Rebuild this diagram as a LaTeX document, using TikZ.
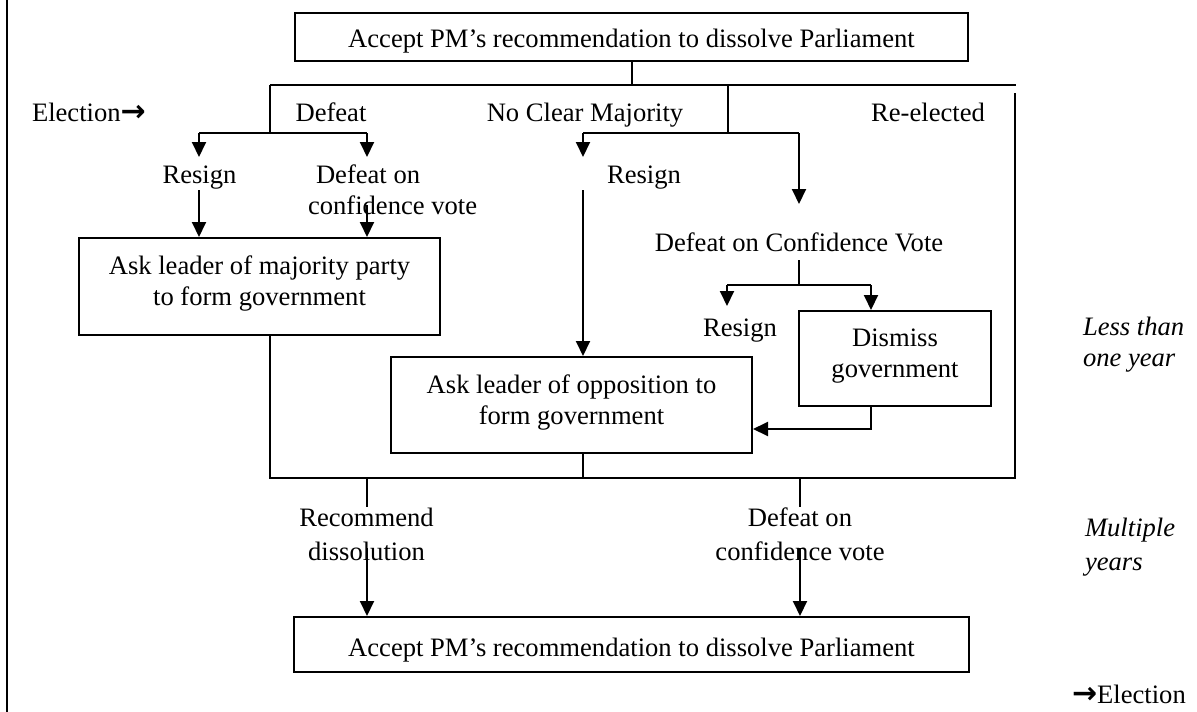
\documentclass[tikz,border=0pt]{standalone}
\usepackage{fontspec}
\setmainfont{Liberation Serif}
\newfontfamily\arrowfont{DejaVu Sans}
\usetikzlibrary{arrows.meta}
\newcommand{\bigarr}{{\arrowfont\bfseries\fontsize{30}{31}\selectfont →}}
\begin{document}
\begin{tikzpicture}[x=1pt,y=-1pt,line width=2pt,
  every node/.style={font=\fontsize{26.6}{31}\selectfont,inner sep=0pt,text height=17.6pt,text depth=0pt},
  box/.style={draw,line width=2pt,align=center,text height=48.6pt,text depth=10pt},
  onebox/.style={draw,line width=2pt,align=center},
  twoline/.style={text height=48.6pt,text depth=0pt},
  lbltall/.style={align=center,font=\fontsize{26.6}{34}\selectfont,text height=51.6pt,text depth=0pt},
  side/.style={align=left,anchor=west,font=\fontsize{26.6}{31}\selectfont\itshape,text height=48.6pt,text depth=0pt},
  sidetall/.style={align=left,anchor=west,font=\fontsize{26.6}{34}\selectfont\itshape,text height=51.6pt,text depth=0pt},
  arr/.style={-{Triangle[width=14pt,length=15pt]}}]
\useasboundingbox (0,0) rectangle (1197,712);
% left border
\draw (6.5,0) -- (6.5,712);
% boxes
\node[onebox,minimum width=673pt,minimum height=48pt,text height=20.6pt] (top) at (631.5,37) {Accept PM’s recommendation to dissolve Parliament};
\node[box,minimum width=361pt,minimum height=97pt] (maj) at (259.5,286.5) {Ask leader of majority party\\to form government};
\node[box,minimum width=361pt,minimum height=96pt] (opp) at (571.5,405) {Ask leader of opposition to\\form government};
\node[box,minimum width=192pt,minimum height=95pt] (dis) at (895,358.5) {Dismiss\\government};
\node[onebox,minimum width=675pt,minimum height=55pt,text height=24.6pt] (bot) at (631.5,644.5) {Accept PM’s recommendation to dissolve Parliament};
% labels
\node[anchor=west] (el1) at (31,113) {Election\bigarr};
\node (defeat) at (331,113) {Defeat};
\node (ncm) at (585,113) {No Clear Majority};
\node (reel) at (928,113) {Re-elected};
\node (res1) at (199.5,175) {Resign};
\node[twoline,align=left,anchor=west] (doc1) at (307,190.5) {\hspace*{8pt}Defeat on\\confidence vote};
\node (res2) at (644,175) {Resign};
\node (docv) at (799,243) {Defeat on Confidence Vote};
\node (res3) at (740,328) {Resign};
\node[side] (less) at (1082,342.5) {Less than\\one year};
\node[lbltall] (rec) at (366.5,535) {Recommend\\dissolution};
\node[lbltall] (doc2) at (800,535) {Defeat on\\confidence vote};
\node[sidetall] (mult) at (1084,544.5) {Multiple\\years};
\node[anchor=west] (el2) at (1071,695) {\bigarr Election};
% junction coordinates
\coordinate (busL) at (270,85);
\coordinate (busM) at (728,85);
\coordinate (busR) at (1016,85);
\coordinate (dJ) at (270,133);
\coordinate (dA) at (199,133);
\coordinate (dB) at (367,133);
\coordinate (nA) at (583,133);
\coordinate (nB) at (799,133);
\coordinate (cJ) at (799,285);
\coordinate (cA) at (727,285);
\coordinate (cB) at (871,285);
\coordinate (fTL) at (270,335);
\coordinate (fBL) at (270,478);
\coordinate (fBR) at (1015,478);
\coordinate (fTR) at (1015,93);
\coordinate (dk) at (871,429);
% connectors
\draw (top.south) -- (top.south |- busL);
\draw (busL) -- (busR);
\draw (busL) -- (dJ);
\draw (dA) -- (dB);
\draw[arr] (dA) -- (199,157);
\draw[arr] (dB) -- (367,157);
\draw (busM) -- (busM |- nA);
\draw (nA) -- (nB);
\draw[arr] (nA) -- (583,157);
\draw[arr] (nB) -- (799,204);
\draw[arr] (199,190) -- (maj.north -| 199,0);
\draw[arr] (367,205) -- (maj.north -| 367,0);
\draw[arr] (583,190) -- (opp.north -| 583,0);
\draw (799,260) -- (cJ);
\draw (cA) -- (cB);
\draw[arr] (cA) -- (727,306);
\draw[arr] (cB) -- (dis.north -| cB);
\draw[arr] (dis.south -| dk) -- (dk) -- (opp.east |- dk);
\draw (fTL) -- (fBL) -- (fBR) -- (fTR);
\draw (opp.south -| 583,0) -- (583,478);
\draw (367,478) -- (367,507);
\draw[arr] (367,548) -- (bot.north -| 367,0);
\draw (800,478) -- (800,507);
\draw[arr] (800,548) -- (bot.north -| 800,0);
\end{tikzpicture}
\end{document}
